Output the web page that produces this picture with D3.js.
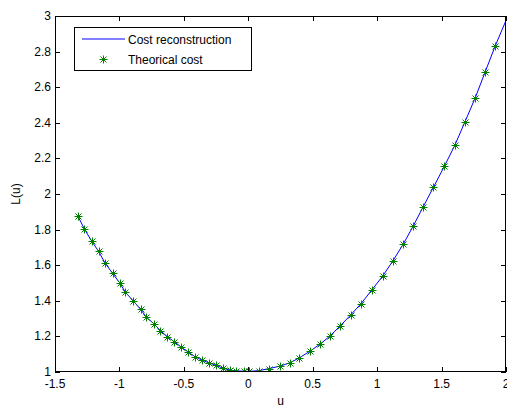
<!DOCTYPE html>
<html lang="en">
<head>
<meta charset="utf-8">
<title>L(u) cost</title>
<script src="https://d3js.org/d3.v7.min.js"></script>
<style>
  body{margin:0;background:#fff;}
  svg text{font-family:"Liberation Sans",Arial,Helvetica,sans-serif;font-size:12px;fill:#000;}
</style>
</head>
<body>
<div id="chart"></div>
<script>
// theorical cost samples
var uTheory = [-1.324,-1.273,-1.216,-1.162,-1.113,-1.053,-0.999,-0.953,-0.894,-0.836,
               -0.790,-0.732,-0.682,-0.627,-0.573,-0.519,-0.465,-0.414,-0.359,-0.305,
               -0.251,-0.199,-0.145,-0.096,-0.036,0.005,0.080,0.159,0.247,0.324,
               0.397,0.477,0.558,0.637,0.715,0.794,0.875,0.960,1.042,1.123,
               1.203,1.280,1.355,1.437,1.522,1.603,1.680,1.760,1.838,1.917]
var lTheory = [1.878,1.805,1.736,1.678,1.614,1.554,1.502,1.447,1.401,1.352,
               1.307,1.271,1.232,1.198,1.169,1.139,1.111,1.086,1.067,1.051,
               1.038,1.022,1.011,1.007,1.004,1.004,1.007,1.019,1.033,1.052,
               1.080,1.116,1.157,1.204,1.260,1.320,1.384,1.462,1.538,1.625,
               1.719,1.820,1.925,2.038,2.156,2.274,2.403,2.538,2.685,2.833]
// reconstruction curve: same samples, carried on to the axis end
var uRecon = uTheory.concat([2.0])
var lRecon = lTheory.concat([2.975])

var xTicks = [-1.5,-1,-0.5,0,0.5,1,1.5,2]
var yTicks = [1,1.2,1.4,1.6,1.8,2,2.2,2.4,2.6,2.8,3]

drawChart()

function drawChart(){
    var w = 507, h = 405
    var mLeft = 55, mRight = 506, mTop = 16, mBottom = 372
    var tickLen = 5

    var xScale = d3.scaleLinear().domain([-1.5,2]).range([mLeft,mRight])
    var yScale = d3.scaleLinear().domain([1,3]).range([mBottom,mTop])

    var svg = d3.select("#chart").append("svg")
        .attr("width",w).attr("height",h)

    svg.append("rect").attr("width",w).attr("height",h).attr("fill","#fff")

    // clip to the axes box
    svg.append("clipPath").attr("id","box")
      .append("rect").attr("x",mLeft).attr("y",mTop)
      .attr("width",mRight-mLeft).attr("height",mBottom-mTop)

    var plot = svg.append("g").attr("clip-path","url(#box)")

    var line = d3.line()
        .x(function(d){ return xScale(d[0]) })
        .y(function(d){ return yScale(d[1]) })

    plot.append("path")
        .datum(uRecon.map(function(u,i){ return [u,lRecon[i]] }))
        .attr("d",line)
        .attr("fill","none")
        .attr("stroke","#0000ff")
        .attr("stroke-width",1)

    var star = "M-4,0H4M0,-4V4M-3,-3L3,3M-3,3L3,-3"

    plot.selectAll("path.star")
        .data(uTheory.map(function(u,i){ return [u,lTheory[i]] }))
        .enter().append("path")
        .attr("class","star")
        .attr("d",star)
        .attr("transform",function(d){
            return "translate(" + (Math.round(xScale(d[0]))+0.5) + "," + (Math.round(yScale(d[1]))+0.5) + ")"
        })
        .attr("fill","none")
        .attr("stroke","#008000")
        .attr("stroke-width",1)

    // axes, MATLAB style: ticks inside, on all four sides
    var axes = svg.append("g").attr("stroke","#000").attr("stroke-width",1).attr("fill","none")
    axes.append("rect").attr("x",mLeft+0.5).attr("y",mTop+0.5)
        .attr("width",mRight-mLeft-1).attr("height",mBottom-mTop-1)

    xTicks.forEach(function(t){
        var x = Math.round(xScale(t)) + 0.5
        axes.append("line").attr("x1",x).attr("x2",x).attr("y1",mBottom).attr("y2",mBottom-tickLen)
        axes.append("line").attr("x1",x).attr("x2",x).attr("y1",mTop).attr("y2",mTop+tickLen)
    })
    yTicks.forEach(function(t){
        var y = Math.round(yScale(t)) + 0.5
        axes.append("line").attr("x1",mLeft).attr("x2",mLeft+tickLen).attr("y1",y).attr("y2",y)
        axes.append("line").attr("x1",mRight).attr("x2",mRight-tickLen).attr("y1",y).attr("y2",y)
    })

    svg.selectAll("text.xt").data(xTicks).enter().append("text")
        .attr("class","xt")
        .attr("x",function(d){ return xScale(d) })
        .attr("y",mBottom+16)
        .attr("text-anchor","middle")
        .text(function(d){ return String(d) })

    svg.selectAll("text.yt").data(yTicks).enter().append("text")
        .attr("class","yt")
        .attr("x",mLeft-4)
        .attr("y",function(d){ return yScale(d) + 4 })
        .attr("text-anchor","end")
        .text(function(d){ return String(d) })

    svg.append("text")
        .attr("transform","translate(20," + ((mTop+mBottom)/2) + ") rotate(-90)")
        .attr("text-anchor","middle")
        .text("L(u)")

    svg.append("text")
        .attr("x",(mLeft+mRight)/2)
        .attr("y",405)
        .attr("text-anchor","middle")
        .text("u")

    // legend
    var lg = svg.append("g")
    lg.append("rect").attr("x",74.5).attr("y",27.5).attr("width",177).attr("height",43)
        .attr("fill","#fff").attr("stroke","#000").attr("stroke-width",1)
    lg.append("line").attr("x1",82).attr("x2",125).attr("y1",39).attr("y2",39)
        .attr("stroke","#0000ff").attr("stroke-width",1)
    lg.append("path").attr("d",star).attr("transform","translate(103.5,59.5)")
        .attr("fill","none").attr("stroke","#008000").attr("stroke-width",1)
    lg.append("text").attr("x",128).attr("y",44).text("Cost reconstruction")
    lg.append("text").attr("x",128).attr("y",64).text("Theorical cost")
}
</script>
</body>
</html>
